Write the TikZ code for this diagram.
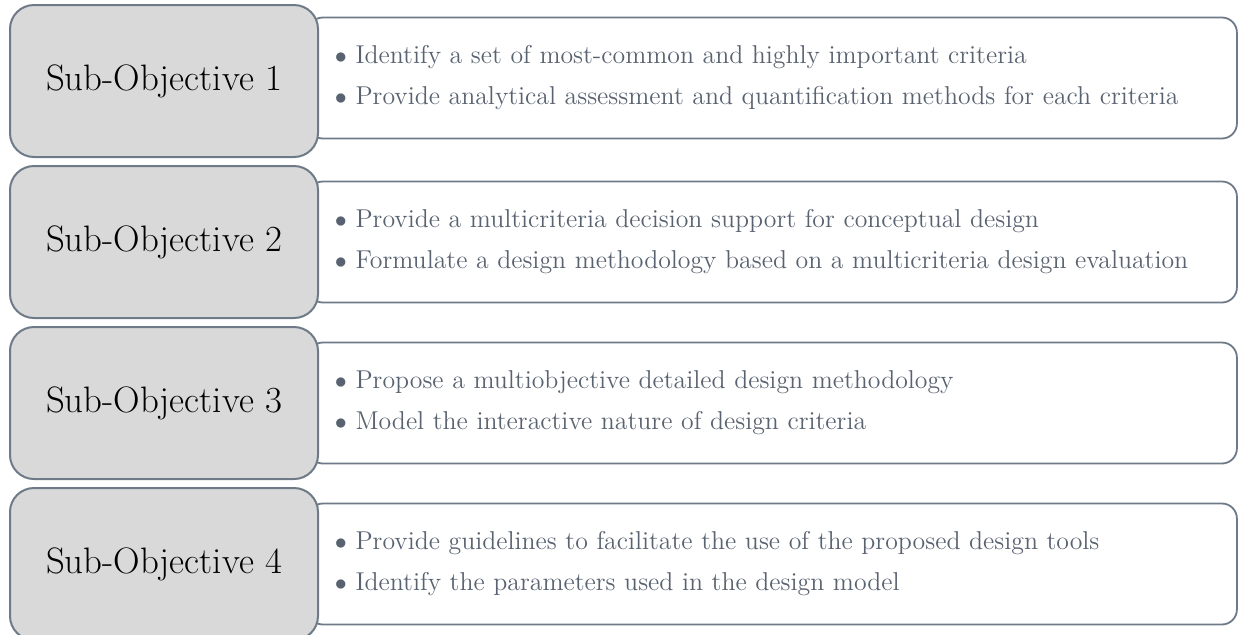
\documentclass[tikz,border=0pt]{standalone}
\usetikzlibrary{positioning, backgrounds}
\definecolor{framegray}{RGB}{110,122,136}
\definecolor{boxgray}{RGB}{217,217,217}
\definecolor{aimtext}{RGB}{88,98,112}

\begin{document}
\begin{tikzpicture}[
		subobj/.style={draw=framegray, fill=boxgray, line width=1pt, rounded corners=12pt,
			minimum width=154pt, minimum height=76pt, font=\fontsize{18.4}{22}\selectfont},
		aims/.style={draw=framegray, fill=white, line width=0.9pt, rounded corners=7.5pt,
			minimum height=60.5pt, text width=437.5pt, inner xsep=13.5pt, align=left,
			text=aimtext, font=\fontsize{12.9}{20.5}\selectfont},
		node distance=3.5pt
	]
		\useasboundingbox (0,0) rectangle (619pt,-317pt);
		\node[subobj] (sub1) at (82pt,-40.5pt) {Sub-Objective 1};
		\node[subobj, below=of sub1] (sub2) {Sub-Objective 2};
		\node[subobj, below=of sub2] (sub3) {Sub-Objective 3};
		\node[subobj, below=of sub3] (sub4) {Sub-Objective 4};
		\begin{scope}[on background layer]
			\node[aims, right=-6pt of sub1, yshift=1.5pt] (aim1) {$\bullet$ Identify a set of most-common and highly important criteria\\
				$\bullet$ Provide analytical assessment and quantification methods for each criteria};
			\node[aims, right=-6pt of sub2] (aim2) {$\bullet$ Provide a multicriteria decision support for conceptual design\\
				$\bullet$ Formulate a design methodology based on a multicriteria design evaluation};
			\node[aims, right=-6pt of sub3] (aim3) {$\bullet$ Propose a multiobjective detailed design methodology\\
				$\bullet$ Model the interactive nature of design criteria};
			\node[aims, right=-6pt of sub4] (aim4) {$\bullet$ Provide guidelines to facilitate the use of the proposed design tools\\
				$\bullet$ Identify the parameters used in the design model};
		\end{scope}
	\end{tikzpicture}
\end{document}
